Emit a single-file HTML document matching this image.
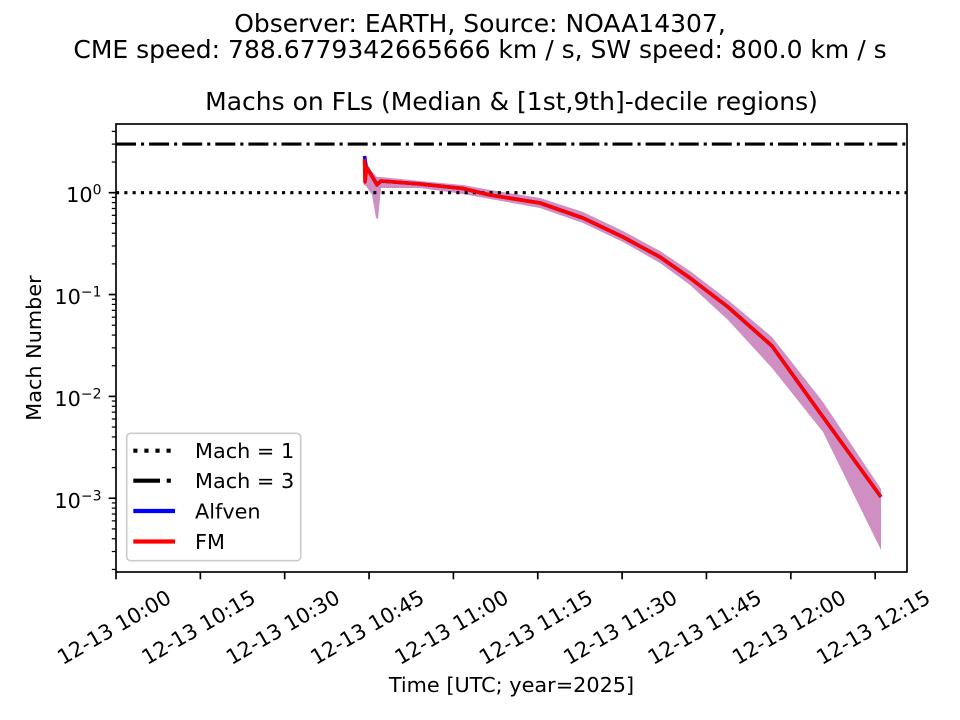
<!DOCTYPE html>
<html>
<head>
<meta charset="utf-8">
<style>
html,body{margin:0;padding:0;background:#fff;}
svg{display:block;}
text{font-family:"DejaVu Sans","Liberation Sans",sans-serif;fill:#000;}
</style>
</head>
<body>
<svg width="960" height="720" viewBox="0 0 960 720" xmlns="http://www.w3.org/2000/svg">
<rect x="0" y="0" width="960" height="720" fill="#fff"/>

<!-- Suptitle -->
<text x="480" y="32" font-size="25" text-anchor="middle">Observer: EARTH, Source: NOAA14307,</text>
<text x="480" y="58" font-size="25" text-anchor="middle">CME speed: 788.6779342665666 km / s, SW speed: 800.0 km / s</text>
<!-- Axes title -->
<text x="511.5" y="110" font-size="25" text-anchor="middle">Machs on FLs (Median &amp; [1st,9th]-decile regions)</text>

<defs>
<clipPath id="ax"><rect x="116" y="124" width="791" height="448"/></clipPath>
</defs>

<g clip-path="url(#ax)">
<!-- band -->
<polygon fill="#cf8fc2" points="364,154 366,165 377,177 381,177 420,181 463,185 490,190 540,198 583,212 623,231 660,251 690,271 728,300 772,337 823,402 881,489 881,550 823,432 772,368 728,320 690,285 660,263 623,242 583,223 540,208 490,199 463,194 420,188 381,188 378,219 376,218 372,195 366,186 364,185"/>
<!-- Mach = 3 -->
<line x1="116" y1="144.1" x2="907" y2="144.1" stroke="#000" stroke-width="3.1" stroke-dasharray="20 5 3.1 5"/>
<!-- Mach = 1 -->
<line x1="116" y1="192.7" x2="907" y2="192.7" stroke="#000" stroke-width="3.1" stroke-dasharray="3.1 5.2"/>
<!-- Alfven -->
<polyline fill="none" stroke="#0000ff" stroke-width="3.6" stroke-linejoin="round" points="364.5,156 366,166 377,184.5 381,181 420,184 463,188.5 490,195 540,203 583,218 623,237 660,257 690,278 728,307 772,346 823,417 881,497"/>
<!-- FM -->
<polyline fill="none" stroke="#ff0000" stroke-width="3.6" stroke-linejoin="round" points="364.5,159 365,182 366.5,167 377,185 381,181 420,184 463,188.5 490,195 540,203 583,218 623,237 660,257 690,278 728,307 772,346 823,417 881,497"/>
</g>

<!-- spines -->
<rect x="116" y="124" width="791" height="448" fill="none" stroke="#000" stroke-width="1.67"/>

<!-- y major ticks -->
<g stroke="#000" stroke-width="1.67">
<line x1="108.7" y1="192.7" x2="116" y2="192.7"/>
<line x1="108.7" y1="294.55" x2="116" y2="294.55"/>
<line x1="108.7" y1="396.4" x2="116" y2="396.4"/>
<line x1="108.7" y1="498.25" x2="116" y2="498.25"/>
</g>
<!-- y minor ticks -->
<g stroke="#000" stroke-width="1.25">
<line x1="111.8" y1="162.04" x2="116" y2="162.04"/>
<line x1="111.8" y1="144.11" x2="116" y2="144.11"/>
<line x1="111.8" y1="131.38" x2="116" y2="131.38"/>
<line x1="111.8" y1="263.89" x2="116" y2="263.89"/>
<line x1="111.8" y1="245.96" x2="116" y2="245.96"/>
<line x1="111.8" y1="233.23" x2="116" y2="233.23"/>
<line x1="111.8" y1="223.36" x2="116" y2="223.36"/>
<line x1="111.8" y1="215.30" x2="116" y2="215.30"/>
<line x1="111.8" y1="208.48" x2="116" y2="208.48"/>
<line x1="111.8" y1="202.57" x2="116" y2="202.57"/>
<line x1="111.8" y1="197.36" x2="116" y2="197.36"/>
<line x1="111.8" y1="365.74" x2="116" y2="365.74"/>
<line x1="111.8" y1="347.81" x2="116" y2="347.81"/>
<line x1="111.8" y1="335.08" x2="116" y2="335.08"/>
<line x1="111.8" y1="325.21" x2="116" y2="325.21"/>
<line x1="111.8" y1="317.15" x2="116" y2="317.15"/>
<line x1="111.8" y1="310.33" x2="116" y2="310.33"/>
<line x1="111.8" y1="304.42" x2="116" y2="304.42"/>
<line x1="111.8" y1="299.21" x2="116" y2="299.21"/>
<line x1="111.8" y1="467.59" x2="116" y2="467.59"/>
<line x1="111.8" y1="449.66" x2="116" y2="449.66"/>
<line x1="111.8" y1="436.93" x2="116" y2="436.93"/>
<line x1="111.8" y1="427.06" x2="116" y2="427.06"/>
<line x1="111.8" y1="419.00" x2="116" y2="419.00"/>
<line x1="111.8" y1="412.18" x2="116" y2="412.18"/>
<line x1="111.8" y1="406.27" x2="116" y2="406.27"/>
<line x1="111.8" y1="401.06" x2="116" y2="401.06"/>
<line x1="111.8" y1="569.44" x2="116" y2="569.44"/>
<line x1="111.8" y1="551.51" x2="116" y2="551.51"/>
<line x1="111.8" y1="538.78" x2="116" y2="538.78"/>
<line x1="111.8" y1="528.91" x2="116" y2="528.91"/>
<line x1="111.8" y1="520.85" x2="116" y2="520.85"/>
<line x1="111.8" y1="514.03" x2="116" y2="514.03"/>
<line x1="111.8" y1="508.12" x2="116" y2="508.12"/>
<line x1="111.8" y1="502.91" x2="116" y2="502.91"/>
</g>

<!-- y tick labels -->
<g font-size="20.8" text-anchor="end">
<text x="101.5" y="202.2">10<tspan font-size="14" dy="-7.5">0</tspan></text>
<text x="101.5" y="304.1">10<tspan font-size="14" dy="-7.5">−1</tspan></text>
<text x="101.5" y="405.9">10<tspan font-size="14" dy="-7.5">−2</tspan></text>
<text x="101.5" y="507.8">10<tspan font-size="14" dy="-7.5">−3</tspan></text>
</g>

<!-- y label -->
<text transform="translate(41,348) rotate(-90)" font-size="20.8" text-anchor="middle">Mach Number</text>

<!-- x ticks -->
<g stroke="#000" stroke-width="1.67">
<line x1="116" y1="572" x2="116" y2="579.3"/>
<line x1="200.35" y1="572" x2="200.35" y2="579.3"/>
<line x1="284.7" y1="572" x2="284.7" y2="579.3"/>
<line x1="369.05" y1="572" x2="369.05" y2="579.3"/>
<line x1="453.4" y1="572" x2="453.4" y2="579.3"/>
<line x1="537.75" y1="572" x2="537.75" y2="579.3"/>
<line x1="622.1" y1="572" x2="622.1" y2="579.3"/>
<line x1="706.45" y1="572" x2="706.45" y2="579.3"/>
<line x1="790.8" y1="572" x2="790.8" y2="579.3"/>
<line x1="875.15" y1="572" x2="875.15" y2="579.3"/>
</g>

<!-- x tick labels (rotated 30deg, centered) -->
<g font-size="20.8" text-anchor="middle">
<text transform="translate(114,627) rotate(-30)" dy="7.5">12-13 10:00</text>
<text transform="translate(198.35,627) rotate(-30)" dy="7.5">12-13 10:15</text>
<text transform="translate(282.7,627) rotate(-30)" dy="7.5">12-13 10:30</text>
<text transform="translate(367.05,627) rotate(-30)" dy="7.5">12-13 10:45</text>
<text transform="translate(451.4,627) rotate(-30)" dy="7.5">12-13 11:00</text>
<text transform="translate(535.75,627) rotate(-30)" dy="7.5">12-13 11:15</text>
<text transform="translate(620.1,627) rotate(-30)" dy="7.5">12-13 11:30</text>
<text transform="translate(704.45,627) rotate(-30)" dy="7.5">12-13 11:45</text>
<text transform="translate(788.8,627) rotate(-30)" dy="7.5">12-13 12:00</text>
<text transform="translate(873.15,627) rotate(-30)" dy="7.5">12-13 12:15</text>
</g>

<!-- x label -->
<text x="511.5" y="692" font-size="20.8" text-anchor="middle">Time [UTC; year=2025]</text>

<!-- legend -->
<rect x="126.7" y="433.3" width="174" height="127.4" rx="4" ry="4" fill="#fff" fill-opacity="0.8" stroke="#cccccc" stroke-width="1.67"/>
<line x1="133.3" y1="450.7" x2="175" y2="450.7" stroke="#000" stroke-width="4.17" stroke-dasharray="4.17 6.9"/>
<line x1="133.3" y1="480.7" x2="175" y2="480.7" stroke="#000" stroke-width="4.17" stroke-dasharray="26.7 6.7 4.17 6.7"/>
<line x1="133.3" y1="511" x2="175" y2="511" stroke="#0000ff" stroke-width="4.17"/>
<line x1="133.3" y1="541.5" x2="175" y2="541.5" stroke="#ff0000" stroke-width="4.17"/>
<g font-size="20.8">
<text x="195" y="458.2">Mach = 1</text>
<text x="195" y="488.2">Mach = 3</text>
<text x="195" y="518.5">Alfven</text>
<text x="195" y="549">FM</text>
</g>
</svg>
</body>
</html>
